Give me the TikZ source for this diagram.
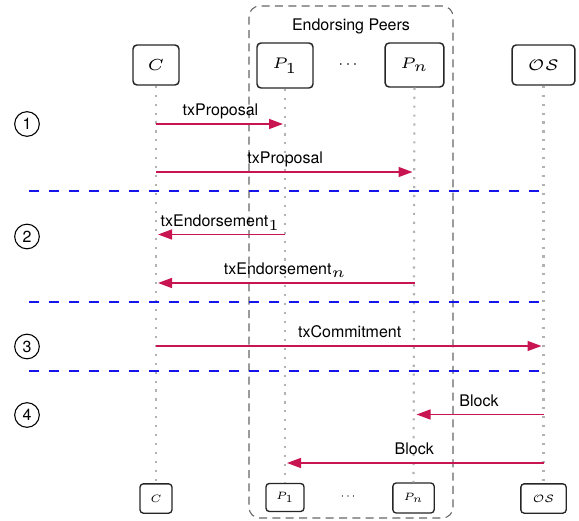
\documentclass[tikz,border=0pt]{standalone}
\usepackage[no-math]{fontspec}
\setmainfont{TeX Gyre Heros}
\usetikzlibrary{arrows.meta}
\definecolor{msgred}{RGB}{200,20,80}
\definecolor{phaseblue}{RGB}{20,20,235}
\newcommand\tinymath[2]{\scalebox{#1}{\fontsize{5}{6}\selectfont #2}}
\begin{document}
\begin{tikzpicture}[x=0.75pt,y=-0.75pt,
  actor/.style={draw=black!85, line width=1.1pt, rounded corners=3pt, fill=white, inner sep=0pt},
  actorsm/.style={actor, line width=1pt, rounded corners=2.5pt},
  life/.style={gray!60, line width=1.6pt, dash pattern=on 1.6pt off 5.1pt},
  phase/.style={phaseblue, line width=1pt, dash pattern=on 7.5pt off 7.5pt},
  group/.style={draw=gray!80!black, line width=0.8pt, dash pattern=on 6pt off 4pt, rounded corners=8pt},
  msg/.style={msgred, line width=1.1pt, -{Triangle[length=10.5pt,width=7.5pt]}, shorten >=1.5pt},
  lbl/.style={midway, anchor=base, yshift=6.3pt, inner sep=0pt, text=black, font=\fontsize{12}{14}\selectfont},
  num/.style={circle, draw, line width=0.8pt, minimum size=18.5pt, inner sep=0pt, font=\fontsize{12}{14}\selectfont},
  txt/.style={inner sep=0pt, font=\fontsize{12}{14}\selectfont}]
\useasboundingbox (0,0) rectangle (579,521);

% group
\draw[group] (249,6) rectangle (453,518);
\node[txt] (gl) at (351,26) {Endorsing Peers};

% top actors
\node[actor, minimum width=34.5pt, minimum height=30pt] (Ct) at (156,65) {\tinymath{2.4}{$C$}};
\node[actor, minimum width=42pt, minimum height=33.75pt] (P1t) at (285,65.5) {\tinymath{2.3}{$P_1$}};
\node[actor, minimum width=44pt, minimum height=33pt] (Pnt) at (414.5,65) {\tinymath{2.3}{$P_n$}};
\node[actor, minimum width=47pt, minimum height=30pt] (OSt) at (543.5,65) {\tinymath{2.3}{$\mathcal{OS}$}};
\node[inner sep=0pt, font=\fontsize{12}{14}\selectfont] (dt) at (348,65) {$\cdots$};

% bottom actors
\node[actorsm, minimum width=24pt, minimum height=22pt] (Cb) at (156,498.5) {\tinymath{1.6}{$C$}};
\node[actorsm, minimum width=28.5pt, minimum height=21pt] (P1b) at (285,497.5) {\tinymath{1.6}{$P_1$}};
\node[actorsm, minimum width=31pt, minimum height=22.5pt] (Pnb) at (413.5,498) {\tinymath{1.6}{$P_n$}};
\node[actorsm, minimum width=34pt, minimum height=22pt] (OSb) at (543.5,498.5) {\tinymath{1.6}{$\mathcal{OS}$}};
\node[inner sep=0pt, font=\fontsize{9}{10}\selectfont] (db) at (348,497) {$\cdots$};

% lifelines
\draw[life] (Ct) -- (Cb);
\draw[life] (P1t) -- (P1b);
\draw[life] (Pnt) -- (Pnb);
\draw[life] (OSt) -- (OSb);

% phase separators
\coordinate (s1a) at (29,191); \coordinate (s1b) at (540,191);
\coordinate (s2a) at (29,302); \coordinate (s2b) at (540,302);
\coordinate (s3a) at (29,371); \coordinate (s3b) at (540,371);
\draw[phase] (s1a) -- (s1b);
\draw[phase] (s2a) -- (s2b);
\draw[phase] (s3a) -- (s3b);

% phase numbers
\node[num] (n1) at (27,124) {1};
\node[num] (n2) at (27,236.5) {2};
\node[num] (n3) at (27,346.5) {3};
\node[num] (n4) at (27,415) {4};

% rows
\coordinate (r1) at (0,124);
\coordinate (r2) at (0,172);
\coordinate (r3) at (0,234.5);
\coordinate (r4) at (0,283);
\coordinate (r5) at (0,346);
\coordinate (r6) at (0,414.5);
\coordinate (r7) at (0,463);

% messages
\draw[msg] (Ct |- r1) -- (P1t |- r1) node[lbl] {txProposal};
\draw[msg] (Ct |- r2) -- (Pnt |- r2) node[lbl] {txProposal};
\draw[msg] (P1t |- r3) -- (Ct |- r3) node[lbl] {txEndorsement\tinymath{2.3}{$_1$}};
\draw[msg] (Pnt |- r4) -- (Ct |- r4) node[lbl] {txEndorsement\tinymath{2.3}{$_n$}};
\draw[msg] (Ct |- r5) -- (OSt |- r5) node[lbl] {txCommitment};
\draw[msg] (OSt |- r6) -- (Pnt |- r6) node[lbl] {Block};
\draw[msg] (OSt |- r7) -- (P1t |- r7) node[lbl] {Block};
\end{tikzpicture}
\end{document}
